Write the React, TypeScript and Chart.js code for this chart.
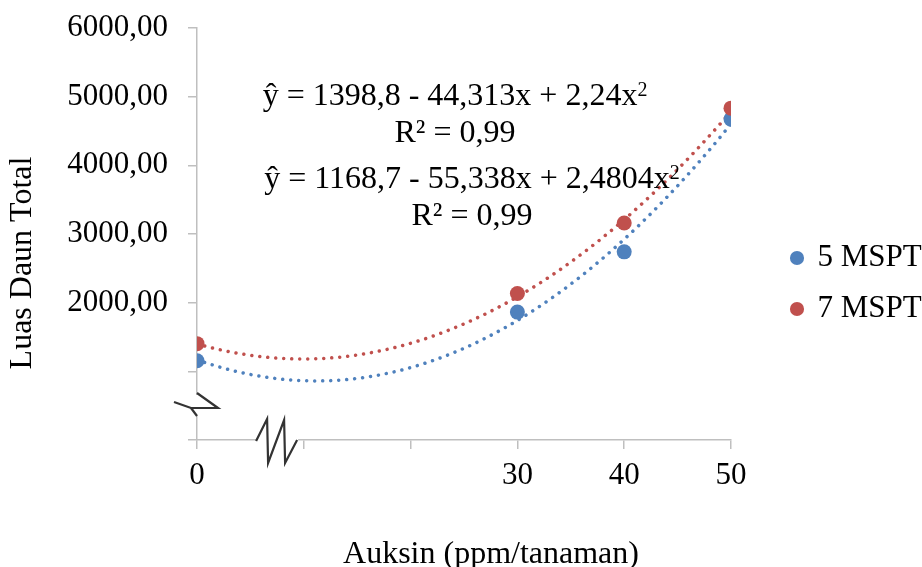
import React, { useEffect, useRef } from 'react';
import { Chart, registerables } from 'chart.js';

Chart.register(...registerables);

// ---- data ----
const auksinLevels = [0, 30, 40, 50];
const seriesNames = ['5 MSPT', '7 MSPT'];
const mspt5Values = [1155, 1863, 2740, 4673];
const mspt7Values = [1403, 2134, 3161, 4833];
// quadratic trendline coefficients [c0, c1, c2] : y = c0 + c1 x + c2 x^2
const trend5Coef = [1168.7, -55.338, 2.4804];
const trend7Coef = [1398.8, -44.313, 2.24];
const r2Values = [0.99, 0.99];
const yLabelValues = [2000, 3000, 4000, 5000, 6000];
const xLabelValues = [0, 30, 40, 50];
const xTitleText = 'Auksin (ppm/tanaman)';
const yTitleText = 'Luas Daun Total';

const BLUE = '#4F81BD';
const RED = '#C0504D';
const AXIS = '#BFBFBF';
const FONT = "'Liberation Serif', 'Times New Roman', serif";
const FS = 31;
const TFS = 32;

const fmtNum = (v: number) => String(v).replace('.', ',');
const eqText = (c: number[]) =>
  `ŷ = ${fmtNum(c[0])} ${c[1] < 0 ? '-' : '+'} ${fmtNum(Math.abs(c[1]))}x + ${fmtNum(c[2])}x`;

const trendXs = Array.from({ length: 101 }, (_, i) => i * 0.5);
const trendPoints = (c: number[]) => trendXs.map((x) => ({ x, y: c[0] + c[1] * x + c[2] * x * x }));

const extrasPlugin = {
  id: 'extras',
  afterDraw(chart: any) {
    const { ctx, scales, chartArea } = chart;
    const xs = scales.x;
    const ys = scales.y;
    ctx.save();

    // y-axis break
    const ybx = xs.getPixelForValue(0);
    const yby = ys.getPixelForValue(510);
    ctx.fillStyle = '#ffffff';
    ctx.fillRect(ybx - 24, yby - 10, 60, 20);
    ctx.strokeStyle = '#333333';
    ctx.lineWidth = 2.2;
    ctx.lineJoin = 'miter';
    ctx.beginPath();
    ctx.moveTo(ybx, yby - 12);
    ctx.lineTo(ybx + 21, yby + 3);
    ctx.lineTo(ybx - 6, yby + 3);
    ctx.lineTo(ybx - 23, yby - 3);
    ctx.stroke();
    ctx.beginPath();
    ctx.moveTo(ybx - 6, yby + 3);
    ctx.lineTo(ybx, yby + 11);
    ctx.stroke();

    // x-axis break
    const xbx = xs.getPixelForValue(7.5);
    const xby = ys.getPixelForValue(0);
    ctx.fillStyle = '#ffffff';
    ctx.fillRect(xbx - 21, xby - 22, 42, 48);
    ctx.beginPath();
    ctx.moveTo(xbx - 21, xby + 1);
    ctx.lineTo(xbx - 10, xby - 21);
    ctx.lineTo(xbx - 9, xby + 23);
    ctx.lineTo(xbx + 7, xby - 20);
    ctx.lineTo(xbx + 8, xby + 23);
    ctx.lineTo(xbx + 20, xby);
    ctx.stroke();

    ctx.fillStyle = '#000000';
    // axis titles
    ctx.font = `${TFS}px ${FONT}`;
    ctx.textAlign = 'center';
    ctx.textBaseline = 'alphabetic';
    ctx.fillText(xTitleText, (chartArea.left + chartArea.right) / 2 + 27, 563);
    ctx.save();
    ctx.translate(22.5, (chartArea.top + chartArea.bottom) / 2 + 29);
    ctx.rotate(-Math.PI / 2);
    ctx.textBaseline = 'middle';
    ctx.fillText(yTitleText, 0, 0);
    ctx.restore();

    // trendline equations
    const eqs = [
      { coef: trend7Coef, r2: r2Values[1], cx: 455, eqY: 105, r2Y: 142 },
      { coef: trend5Coef, r2: r2Values[0], cx: 472, eqY: 188, r2Y: 225 },
    ];
    eqs.forEach((e) => {
      const main = eqText(e.coef);
      ctx.font = `${TFS}px ${FONT}`;
      const w1 = ctx.measureText(main).width;
      ctx.font = `20px ${FONT}`;
      const w2 = ctx.measureText('2').width;
      const sx = e.cx - (w1 + w2) / 2;
      ctx.textAlign = 'left';
      ctx.font = `${TFS}px ${FONT}`;
      ctx.fillText(main, sx, e.eqY);
      ctx.font = `20px ${FONT}`;
      ctx.fillText('2', sx + w1, e.eqY - 9);
      ctx.font = `${TFS}px ${FONT}`;
      ctx.textAlign = 'center';
      ctx.fillText(`R² = ${e.r2.toFixed(2).replace('.', ',')}`, e.cx, e.r2Y);
    });

    ctx.restore();
  },
};

export default function App() {
  const canvasRef = useRef<HTMLCanvasElement | null>(null);

  useEffect(() => {
    if (!canvasRef.current) return;
    const chart = new Chart(canvasRef.current, {
      type: 'scatter',
      data: {
        datasets: [
          {
            label: seriesNames[0],
            data: auksinLevels.map((x, i) => ({ x, y: mspt5Values[i] })),
            backgroundColor: BLUE,
            borderColor: BLUE,
            borderWidth: 0,
            pointRadius: 7.5,
            pointHoverRadius: 7.5,
            pointStyle: 'circle',
            order: 1,
          },
          {
            label: seriesNames[1],
            data: auksinLevels.map((x, i) => ({ x, y: mspt7Values[i] })),
            backgroundColor: RED,
            borderColor: RED,
            borderWidth: 0,
            pointRadius: 7.5,
            pointHoverRadius: 7.5,
            pointStyle: 'circle',
            order: 0,
          },
          {
            label: 'trend5',
            data: trendPoints(trend5Coef),
            showLine: true,
            borderColor: BLUE,
            backgroundColor: BLUE,
            borderWidth: 3.5,
            borderDash: [0.01, 8],
            borderCapStyle: 'round',
            pointRadius: 0,
            order: 2,
          },
          {
            label: 'trend7',
            data: trendPoints(trend7Coef),
            showLine: true,
            borderColor: RED,
            backgroundColor: RED,
            borderWidth: 3.5,
            borderDash: [0.01, 8],
            borderCapStyle: 'round',
            pointRadius: 0,
            order: 2,
          },
        ],
      } as any,
      options: {
        animation: false,
        responsive: false,
        layout: { padding: { top: 0, left: 0, right: 0, bottom: 0 } },
        scales: {
          x: {
            type: 'linear',
            position: 'bottom',
            min: 0,
            max: 50,
            afterFit: (s: any) => {
              s.height = 127;
            },
            ticks: {
              stepSize: 10,
              autoSkip: false,
              maxRotation: 0,
              padding: 8,
              color: '#000',
              font: { family: FONT, size: FS },
              callback: (v: any) => (xLabelValues.includes(Number(v)) ? String(v) : ''),
            },
            grid: { drawOnChartArea: false, drawTicks: true, tickLength: 9, color: AXIS, lineWidth: 1.5 },
            border: { color: AXIS, width: 1.5 },
          },
          y: {
            type: 'linear',
            position: 'left',
            min: 0,
            max: 6000,
            afterFit: (s: any) => {
              s.width = 197;
              s.paddingTop = 28;
            },
            ticks: {
              stepSize: 1000,
              autoSkip: false,
              padding: 20,
              color: '#000',
              font: { family: FONT, size: FS },
              callback: (v: any) =>
                yLabelValues.includes(Number(v)) ? Number(v).toFixed(2).replace('.', ',') : '',
            },
            grid: { drawOnChartArea: false, drawTicks: true, tickLength: 9, color: AXIS, lineWidth: 1.5 },
            border: { color: AXIS, width: 1.5 },
          },
          gap: {
            type: 'linear',
            position: 'right',
            display: true,
            afterFit: (s: any) => {
              s.width = 41;
            },
            ticks: { display: false },
            grid: { display: false, drawTicks: false },
            border: { display: false },
          },
        },
        plugins: {
          legend: {
            position: 'right',
            maxWidth: 150,
            labels: {
              usePointStyle: true,
              pointStyle: 'circle',
              boxWidth: 10,
              boxHeight: 10,
              padding: 20,
              color: '#000',
              font: { family: FONT, size: FS },
              filter: (item: any) => item.datasetIndex < 2,
              sort: (a: any, b: any) => a.datasetIndex - b.datasetIndex,
            },
          },
          tooltip: { enabled: false },
        },
      } as any,
      plugins: [extrasPlugin],
    });
    return () => chart.destroy();
  }, []);

  return (
    <div style={{ position: 'fixed', left: 0, top: 0, width: 922, height: 567, background: '#fff' }}>
      <canvas ref={canvasRef} width={922} height={567} style={{ display: 'block' }} />
    </div>
  );
}
